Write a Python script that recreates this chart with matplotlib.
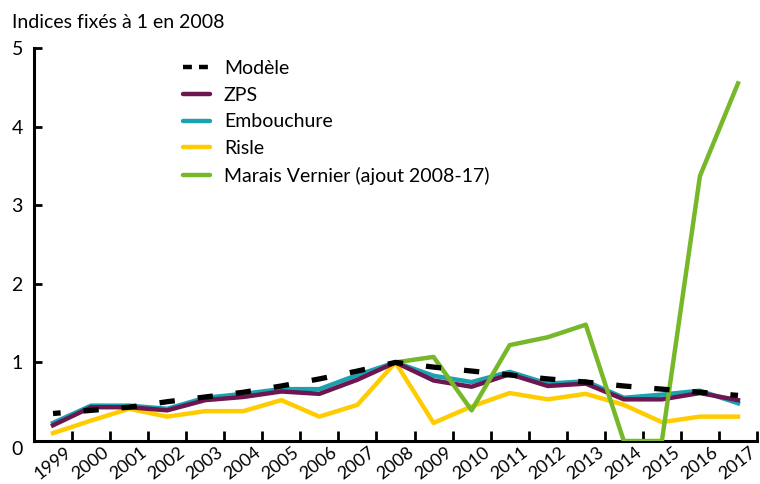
import numpy as np
import matplotlib
matplotlib.use('Agg')
import matplotlib.pyplot as plt
import matplotlib.transforms as mtransforms
from matplotlib.lines import Line2D

plt.rcParams['font.family'] = ['Lato', 'DejaVu Sans']

years = [str(y) for y in range(1999, 2018)]

modele = [0.35, 0.39, 0.43, 0.50, 0.56, 0.62, 0.70, 0.79, 0.89, 1.00,
          0.94, 0.89, 0.84, 0.79, 0.75, 0.70, 0.66, 0.62, 0.58]
zps = [0.20, 0.43, 0.43, 0.39, 0.52, 0.56, 0.63, 0.60, 0.78, 1.00,
       0.77, 0.69, 0.85, 0.70, 0.73, 0.53, 0.53, 0.61, 0.52]
embouchure = [0.23, 0.45, 0.45, 0.41, 0.55, 0.60, 0.66, 0.66, 0.84, 1.00,
              0.83, 0.75, 0.88, 0.73, 0.76, 0.55, 0.59, 0.64, 0.48]
risle = [0.10, 0.26, 0.41, 0.31, 0.38, 0.38, 0.52, 0.31, 0.46, 1.00,
         0.23, 0.44, 0.61, 0.53, 0.60, 0.46, 0.24, 0.31, 0.31]
# Marais Vernier only from 2008
marais_years = years[9:]
marais = [1.00, 1.07, 0.39, 1.22, 1.32, 1.48, 0.0, 0.0, 3.37, 4.55]

colors = {
    'modele': '#000000',
    'zps': '#6d1650',
    'embouchure': '#1aa2b0',
    'risle': '#ffcc00',
    'marais': '#76b82a',
}

fs = 14

fig = plt.figure(figsize=(7.6, 4.84), dpi=100)
ax = fig.add_axes([34 / 760, 1 - 441 / 484, (757 - 34) / 760, (441 - 48) / 484])

x = np.arange(len(years))
xm = np.arange(len(years) - len(marais_years), len(years))
lw = 3.2

ax.plot(x, risle, color=colors['risle'], lw=lw, zorder=2)
ax.plot(x, embouchure, color=colors['embouchure'], lw=lw, zorder=3)
ax.plot(x, zps, color=colors['zps'], lw=lw, zorder=4)
ax.plot(xm, marais, color=colors['marais'], lw=lw, zorder=5)

# modele: one short dash centred on each year
for i in range(len(years)):
    xs = np.linspace(max(i - 0.2, 0), min(i + 0.2, len(years) - 1), 5)
    ax.plot(xs, np.interp(xs, x, modele), color=colors['modele'], lw=3.8,
            solid_capstyle='butt', zorder=6)

ax.set_xlim(-0.5, len(years) - 0.5)
ax.set_ylim(0, 5)
ax.set_yticks(range(0, 6))
ax.set_xticks(np.arange(-0.5, len(years), 1.0))
ax.set_xticklabels([])
ax.tick_params(axis='y', direction='in', length=6, width=2, labelsize=fs, pad=8)
ax.tick_params(axis='x', direction='in', length=7, width=2)
for lab in ax.get_yticklabels():
    if lab.get_text() == '0':
        lab.set_va('top')

for s in ('top', 'right'):
    ax.spines[s].set_visible(False)
for s in ('left', 'bottom'):
    ax.spines[s].set_linewidth(2.2)

offset = mtransforms.ScaledTranslation(11 / 100, -3 / 100, fig.dpi_scale_trans)
for i, yr in enumerate(years):
    ax.text(i, 0, yr, transform=ax.get_xaxis_transform() + offset,
            rotation=38, rotation_mode='anchor', ha='right', va='top', fontsize=13)

fig.text(12 / 760, 1 - 22 / 484, 'Indices fixés à 1 en 2008', fontsize=fs, va='center', ha='left')

handles = [
    Line2D([], [], color=colors['modele'], lw=3.2, dashes=(2.0, 1.6), dash_capstyle='butt'),
    Line2D([], [], color=colors['zps'], lw=3.2, solid_capstyle='round'),
    Line2D([], [], color=colors['embouchure'], lw=3.2, solid_capstyle='round'),
    Line2D([], [], color=colors['risle'], lw=3.2, solid_capstyle='round'),
    Line2D([], [], color=colors['marais'], lw=3.2, solid_capstyle='round'),
]
labels = ['Modèle', 'ZPS', 'Embouchure', 'Risle', 'Marais Vernier (ajout 2008-17)']
fig.legend(handles, labels, loc='upper left', bbox_to_anchor=(183 / 760, 1 - 60 / 484),
           frameon=False, fontsize=fs, handlelength=1.4, handletextpad=0.7,
           labelspacing=0.5, borderpad=0, borderaxespad=0)

fig.savefig('out.png', dpi=100)
